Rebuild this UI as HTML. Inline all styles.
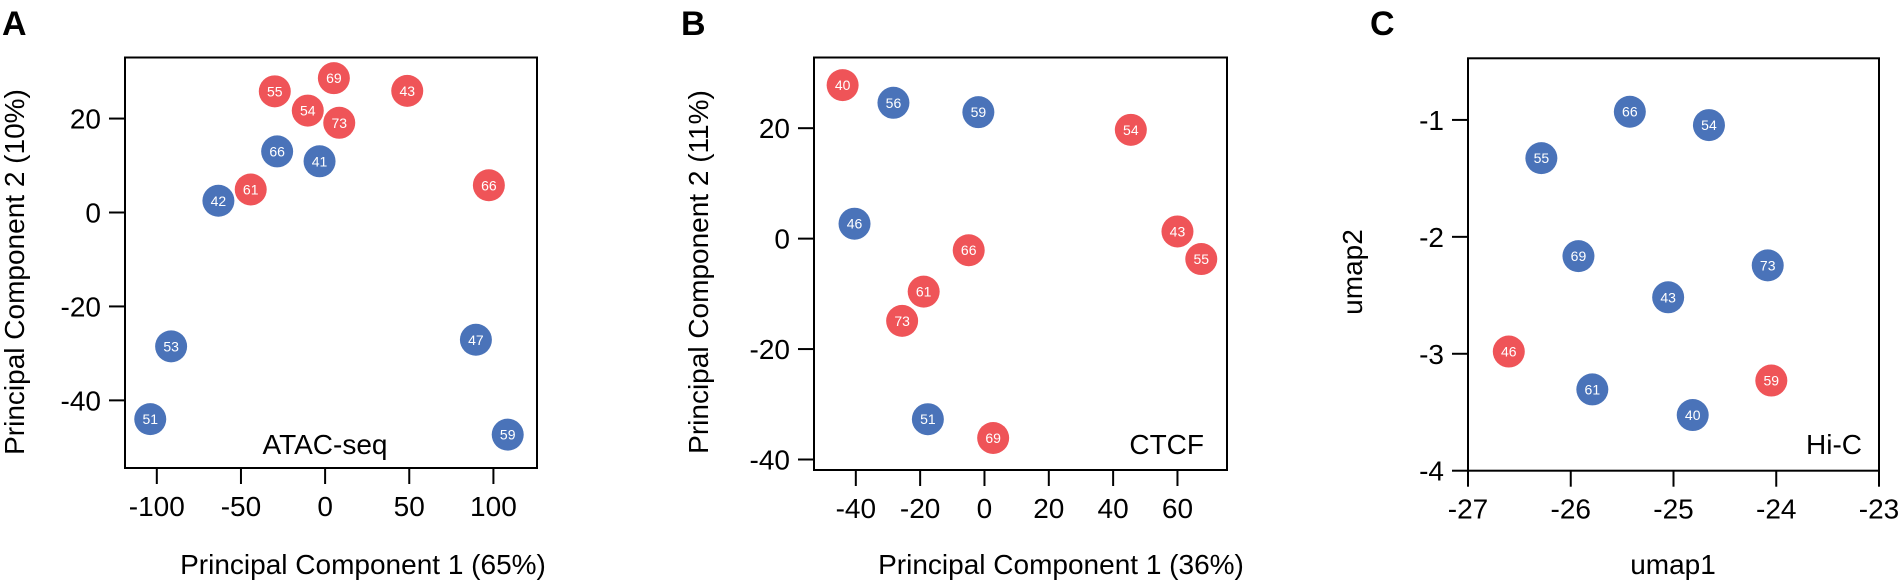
<!DOCTYPE html>
<html><head><meta charset="utf-8"><style>
html,body{margin:0;padding:0;background:#fff;width:1900px;height:582px;overflow:hidden}
svg{display:block;font-family:"Liberation Sans",Arial,sans-serif}
</style></head><body>
<svg id="fig" width="1900" height="582" viewBox="0 0 1900 582"></svg>
<script>
// Panel A data (ATAC-seq PCA)
const aLabels=["55","69","54","73","43","61","66","66","41","42","53","51","47","59"];
const aGroup=["r","r","r","r","r","r","r","b","b","b","b","b","b","b"];
const aX=[-29.9,5.2,-10.3,8.4,48.8,-44.2,97.3,-28.5,-3.3,-63.4,-91.5,-103.9,89.6,108.5];
const aY=[25.8,28.6,21.7,19.1,25.9,4.9,5.8,13.0,10.9,2.5,-28.5,-44.0,-27.1,-47.3];
const aXTicks=[-100,-50,0,50,100];
const aYTicks=[20,0,-20,-40];
// Panel B data (CTCF PCA)
const bLabels=["40","56","59","54","46","43","55","66","61","73","51","69"];
const bGroup=["r","b","b","r","b","r","r","r","r","r","b","r"];
const bX=[-44.1,-28.3,-1.9,45.5,-40.4,60.0,67.4,-4.9,-18.9,-25.6,-17.6,2.7];
const bY=[27.8,24.6,22.9,19.7,2.7,1.3,-3.7,-2.1,-9.6,-14.9,-32.7,-36.1];
const bXTicks=[-40,-20,0,20,40,60];
const bYTicks=[20,0,-20,-40];
// Panel C data (Hi-C UMAP)
const cLabels=["66","54","55","69","73","43","46","59","61","40"];
const cGroup=["b","b","b","b","b","b","r","r","b","b"];
const cX=[-25.425,-24.655,-26.286,-25.925,-24.083,-25.052,-26.603,-24.048,-25.79,-24.813];
const cY=[-0.93,-1.044,-1.327,-2.165,-2.244,-2.517,-2.981,-3.229,-3.305,-3.524];
const cXTicks=[-27,-26,-25,-24,-23];
const cYTicks=[-1,-2,-3,-4];

const NS="http://www.w3.org/2000/svg";
const svg=document.getElementById('fig');
const COL={r:"#EF5458",b:"#4A73B9"};
function mk(tag,attrs,parent,text){const e=document.createElementNS(NS,tag);for(const k in attrs)e.setAttribute(k,attrs[k]);if(text!==undefined)e.textContent=text;(parent||svg).appendChild(e);return e;}

function panel(p){
  const g=mk('g',{});
  
  
  const sx=v=>p.L+(v-p.x0)/(p.x1-p.x0)*(p.R-p.L);
  const sy=v=>p.B-(v-p.y0)/(p.y1-p.y0)*(p.B-p.T);
  const frame=mk('rect',{x:p.L,y:p.T,width:p.R-p.L,height:p.B-p.T,fill:"none",stroke:"#000","stroke-width":2},g);
  
  
  p.xt.forEach(v=>{
    const x=sx(v);
    const t=mk('line',{x1:x,x2:x,y1:p.B,y2:p.B+16,stroke:"#000","stroke-width":2},g);
    
    
    const l=mk('text',{x:x,y:p.B+48,"text-anchor":"middle","font-size":28},g,String(v));
    
    
  });
  p.yt.forEach(v=>{
    const y=sy(v);
    const t=mk('line',{x1:p.L-16,x2:p.L,y1:y,y2:y,stroke:"#000","stroke-width":2},g);
    
    
    const l=mk('text',{x:p.L-24,y:y+10,"text-anchor":"end","font-size":28},g,String(v));
    
    
  });
  p.xs.forEach((v,i)=>{
    const cx=sx(v),cy=sy(p.ys[i]);
    const c=mk('circle',{cx:cx,cy:cy,r:16,fill:COL[p.gr[i]]},g);
    
    
    const t=mk('text',{x:cx,y:cy+5,"text-anchor":"middle","font-size":14,fill:"#fff"},g,p.lb[i]);
    
    
  });
  const xt=mk('text',{x:p.xtx,y:574,"text-anchor":"middle","font-size":28},g,p.xtitle);
  
  
  const yt=mk('text',{x:0,y:0,"text-anchor":"middle","font-size":28,transform:`translate(${p.ytx},272) rotate(-90)`},g,p.ytitle);
  
  
  const an=mk('text',{x:p.anx,y:454,"text-anchor":p.ana,"font-size":28},g,p.ann);
  
  
  const pl=mk('text',{x:p.plx,y:35,"font-size":34,"font-weight":"bold"},g,p.letter);
  
  
}
panel({name:'atac',L:125,R:537,T:57.5,B:468,x0:-118.9,x1:125.9,y0:-54.4,y1:33.0,
  xt:aXTicks,yt:aYTicks,xs:aX,ys:aY,gr:aGroup,lb:aLabels,xtitle:"Principal Component 1 (65%)",xtx:363,
  ytitle:"Principal Component 2 (10%)",ytx:24,ann:"ATAC-seq",anx:325,ana:"middle",letter:"A",plx:2});
panel({name:'ctcf',L:814,R:1227,T:57.5,B:470,x0:-53,x1:75.4,y0:-41.9,y1:32.8,
  xt:bXTicks,yt:bYTicks,xs:bX,ys:bY,gr:bGroup,lb:bLabels,xtitle:"Principal Component 1 (36%)",xtx:1061,
  ytitle:"Principal Component 2 (11%)",ytx:708,ann:"CTCF",anx:1204,ana:"end",letter:"B",plx:681});
panel({name:'hic',L:1468,R:1879,T:58.3,B:470.7,x0:-27,x1:-23,y0:-4,y1:-0.473,
  xt:cXTicks,yt:cYTicks,xs:cX,ys:cY,gr:cGroup,lb:cLabels,xtitle:"umap1",xtx:1673,
  ytitle:"umap2",ytx:1362,ann:"Hi-C",anx:1862,ana:"end",letter:"C",plx:1370});
</script>
</body></html>
